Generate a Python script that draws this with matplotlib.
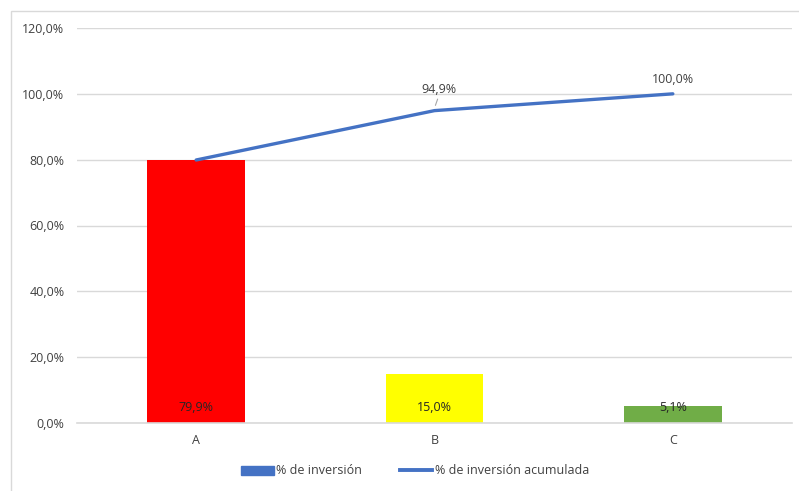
import matplotlib
matplotlib.use("Agg")
import matplotlib.pyplot as plt
from matplotlib.patches import Rectangle, Patch
from matplotlib.lines import Line2D
from matplotlib.ticker import FuncFormatter

categories = ["A", "B", "C"]
pct_inversion = [79.9, 15.0, 5.1]
pct_acumulada = [79.9, 94.9, 100.0]
bar_colors = ["#FF0000", "#FFFF00", "#70AD47"]
yticks = [0, 20, 40, 60, 80, 100, 120]

plt.rcParams['font.family'] = ['Open Sans', 'DejaVu Sans']
W, H = 799, 491
fig = plt.figure(figsize=(W / 100, H / 100), dpi=100)
fig.patches.append(Rectangle((11 / W, -0.1), 1.2, (H - 11) / H + 0.1, transform=fig.transFigure,
                             fill=False, edgecolor="#D9D9D9", linewidth=1))

ax = fig.add_axes([77 / W, (H - 423) / H, (792 - 77) / W, (423 - 28) / H])
x = list(range(len(categories)))
ax.bar(x, pct_inversion, width=0.41, color=bar_colors, zorder=2, label="% de inversión")
ax.plot(x, pct_acumulada, color="#4472C4", linewidth=2.4, zorder=3, solid_capstyle="round",
        label="% de inversión acumulada")

fmt = lambda v: f"{v:.1f}%".replace(".", ",")
for xi, v in zip(x, pct_inversion):
    ax.annotate(fmt(v), (xi, 0), xytext=(0, 11), textcoords="offset points",
                ha="center", va="center", fontsize=9, color="#262626", zorder=4)

offsets = [None, (3, 15), (0, 10.5)]
for xi, v, off in zip(x, pct_acumulada, offsets):
    if off is None:
        continue
    ax.annotate(fmt(v), (xi, v), xytext=off, textcoords="offset points",
                ha="center", va="center", fontsize=9, color="#404040", zorder=4)
    if xi == 1:
        ax.annotate("", (xi, v + 0.8), xytext=(xi + 0.017, v + 4.3),
                    arrowprops=dict(arrowstyle="-", color="#A6A6A6", lw=0.8), zorder=4)

ax.set_xlim(-0.5, 2.5)
ax.set_ylim(0, 120)
ax.set_yticks(yticks)
ax.yaxis.set_major_formatter(FuncFormatter(lambda v, p: fmt(v)))
ax.set_xticks(x)
ax.set_xticklabels(categories)
ax.grid(axis="y", color="#D9D9D9", linewidth=1, zorder=0)
ax.set_axisbelow(True)
for s in ["top", "right", "left"]:
    ax.spines[s].set_visible(False)
ax.spines["bottom"].set_color("#D9D9D9")
ax.spines["bottom"].set_linewidth(1.2)
ax.tick_params(axis="both", length=0, labelsize=9, labelcolor="#404040")
ax.tick_params(axis="y", pad=9)
ax.tick_params(axis="x", pad=8)

handles = [Patch(color="#4472C4"), Line2D([0], [0], color="#4472C4", linewidth=2.8)]
fig.legend(handles, ["% de inversión", "% de inversión acumulada"], loc="center",
           bbox_to_anchor=(415 / W, 1 - 471 / H), ncol=2, frameon=False, fontsize=9,
           handlelength=2.6, handleheight=0.7, columnspacing=3.0, handletextpad=0.2,
           labelcolor="#404040")

fig.savefig("out.png", dpi=100)
